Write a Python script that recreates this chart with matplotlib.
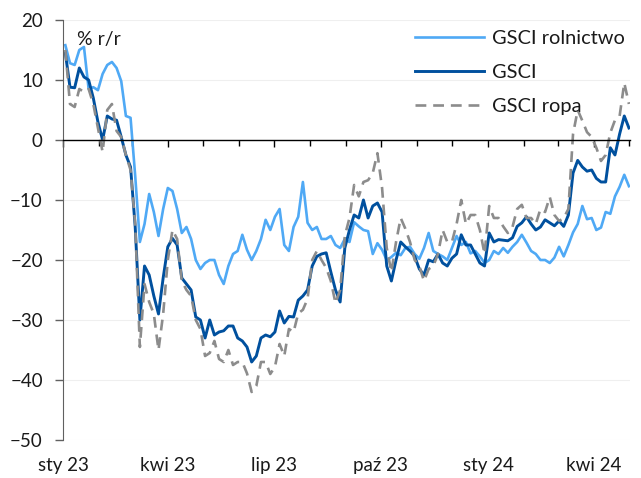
import matplotlib
matplotlib.use("Agg")
import matplotlib.pyplot as plt
import matplotlib.dates as mdates
from matplotlib.ticker import FuncFormatter, MultipleLocator
import pandas as pd

plt.rcParams['font.family'] = ['Lato', 'DejaVu Sans']

# data, one value every 4 days from 3 Jan 2023
dates = pd.date_range("2023-01-03", periods=122, freq="4D")

gsci_rolnictwo = [
    15.8, 12.8, 12.5, 15.0, 15.5, 8.5, 8.8, 8.3, 11.0, 12.5,
    13.0, 12.0, 9.8, 4.0, 3.7, -6.0, -17.0, -14.0, -9.0, -12.0,
    -16.0, -11.5, -8.0, -8.5, -11.5, -15.5, -14.5, -16.5, -20.0, -21.5,
    -20.5, -20.0, -20.0, -22.5, -24.0, -21.0, -19.0, -18.5, -15.8, -18.3,
    -20.0, -18.5, -16.5, -13.3, -15.0, -12.8, -11.5, -17.5, -18.5, -14.5,
    -12.8, -7.0, -13.8, -15.0, -14.5, -16.5, -16.5, -16.0, -17.5, -18.0,
    -16.5, -17.0, -13.7, -14.4, -15.0, -15.2, -19.0, -17.2, -18.3, -20.0,
    -19.5, -18.8, -19.2, -18.0, -17.8, -19.0, -19.8, -18.0, -15.5, -18.5,
    -19.0, -19.4, -20.0, -18.0, -16.0, -17.5, -17.0, -18.9, -18.5, -19.4,
    -20.5, -20.0, -18.5, -19.0, -18.0, -18.8, -17.8, -17.0, -15.8, -17.1,
    -18.5, -19.0, -20.0, -20.0, -20.5, -19.6, -17.8, -19.4, -17.5, -15.4,
    -14.0, -11.0, -13.2, -13.0, -15.0, -14.6, -12.0, -12.3, -9.4, -7.8,
    -5.8, -7.7,
]

gsci = [
    14.5, 8.8, 8.7, 12.0, 10.5, 10.0, 7.0, 3.0, 0.0, 4.0,
    3.5, 3.3, 0.5, -2.5, -4.5, -14.5, -30.0, -21.0, -22.5, -26.0,
    -29.0, -23.0, -17.8, -16.4, -17.5, -23.0, -24.0, -25.0, -29.5, -30.0,
    -33.0, -30.0, -32.5, -32.0, -31.8, -31.0, -31.0, -33.0, -33.5, -34.5,
    -37.0, -36.0, -33.0, -32.5, -32.8, -32.0, -28.5, -30.5, -29.4, -29.5,
    -26.7, -26.0, -25.0, -21.0, -19.4, -19.0, -18.8, -22.0, -25.0, -27.0,
    -18.0, -15.0, -12.5, -13.0, -10.0, -13.0, -11.0, -10.5, -12.0, -21.0,
    -23.5, -20.0, -17.0, -17.8, -18.5, -19.4, -21.5, -22.5, -20.0, -20.3,
    -19.0, -20.5, -21.0, -19.7, -19.0, -15.8, -17.5, -17.5, -19.0, -20.5,
    -21.0, -15.5, -17.0, -16.6, -16.7, -16.8, -16.3, -14.4, -13.8, -12.8,
    -14.0, -15.0, -14.5, -13.3, -13.8, -14.3, -13.5, -14.4, -12.5, -5.5,
    -3.4, -4.5, -5.2, -5.0, -6.4, -7.0, -7.0, -1.3, -2.5, 1.0,
    4.0, 2.0,
]

gsci_ropa = [
    15.0, 6.0, 5.5, 8.5, 8.0, 8.5, 6.0, 2.0, -2.0, 5.0,
    6.0, 1.5, 0.5, -2.5, -5.0, -14.0, -34.5, -24.0, -27.0, -29.0,
    -35.0, -29.0, -20.0, -15.0, -16.5, -23.5, -25.0, -26.0, -30.0, -31.5,
    -36.0, -35.5, -33.5, -36.5, -37.0, -35.0, -37.5, -37.0, -37.0, -38.9,
    -42.0, -41.0, -37.0, -37.0, -39.0, -37.8, -34.0, -36.0, -31.5, -32.0,
    -28.9, -28.3, -26.5, -20.0, -18.5, -20.0, -21.3, -23.5, -27.2, -25.0,
    -16.0, -13.0, -7.5, -9.4, -7.0, -6.7, -5.5, -2.2, -8.0, -18.0,
    -22.0, -17.0, -13.0, -14.8, -17.0, -20.0, -21.0, -23.5, -21.5, -21.0,
    -19.0, -15.0, -17.0, -17.0, -14.0, -10.0, -14.0, -12.5, -12.5, -15.0,
    -19.0, -11.0, -13.0, -13.0, -14.4, -15.5, -14.5, -11.5, -10.8, -13.0,
    -13.0, -14.0, -11.5, -12.0, -9.5, -12.5, -13.5, -13.0, -11.5, 1.0,
    5.0, 3.2, 1.3, 0.5, -1.3, -3.5, -2.5, 1.2, 3.3, 4.0,
    9.5, 6.0,
]

miesiace = ["sty", "lut", "mar", "kwi", "maj", "cze",
            "lip", "sie", "wrz", "paź", "lis", "gru"]

fig = plt.figure(figsize=(6.41, 4.78), dpi=100)
ax = fig.add_axes([0.0983, 0.0795, 0.8847, 0.8787])

ax.plot(dates, gsci_rolnictwo, color="#4FA9F5", lw=1.9, label="GSCI rolnictwo")
ax.plot(dates, gsci, color="#00509E", lw=2.1, label="GSCI")
ax.plot(dates, gsci_ropa, color="#8C8C8C", lw=1.9, ls=(0, (4.1, 2.6)), label="GSCI ropa")

ax.set_ylim(-50, 20)
ax.set_xlim(pd.Timestamp("2023-01-01"), pd.Timestamp("2024-05-02"))
ax.yaxis.set_major_locator(MultipleLocator(10))
ax.grid(axis="y", color="#EFEFEF", lw=0.8)
ax.set_axisbelow(True)

for s in ["top", "right"]:
    ax.spines[s].set_visible(False)
ax.spines["left"].set_color("#606060")
ax.spines["bottom"].set_position(("data", 0))
ax.spines["bottom"].set_color("black")
ax.spines["bottom"].set_linewidth(1.0)

ax.xaxis.set_major_locator(mdates.MonthLocator(bymonth=[1, 4, 7, 10]))
ax.xaxis.set_minor_locator(mdates.MonthLocator())
ax.tick_params(axis="x", which="major", length=5, width=1, labelbottom=False)
ax.tick_params(axis="x", which="minor", length=4, width=1)
ax.tick_params(axis="y", length=5.5, width=1, color="#606060", labelsize=13.5,
               labelcolor="#1a1a1a", pad=9)

sec = ax.secondary_xaxis("bottom")
sec.xaxis.set_major_locator(mdates.MonthLocator(bymonth=[1, 4, 7, 10]))
sec.xaxis.set_major_formatter(FuncFormatter(
    lambda x, pos: f"{miesiace[mdates.num2date(x).month - 1]} {mdates.num2date(x).year % 100:02d}"))
sec.tick_params(length=0, labelsize=13.5, labelcolor="#1a1a1a", pad=12)
sec.spines["bottom"].set_visible(False)

ax.text(0.025, 0.953, "% r/r", transform=ax.transAxes, fontsize=14,
        color="#1a1a1a", va="center", ha="left")

ax.legend(loc="upper right", bbox_to_anchor=(1.022, 1.02), frameon=False,
          fontsize=14.4, handlelength=3.45, handletextpad=0.4, labelspacing=0.85,
          labelcolor="#1a1a1a")

fig.savefig("out.png", dpi=100)
